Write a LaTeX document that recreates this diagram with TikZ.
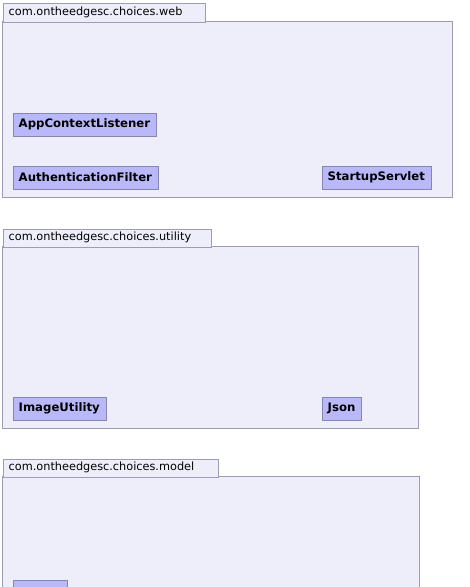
\documentclass[tikz,border=0pt]{standalone}
\usepackage{fontspec}
\setmainfont{DejaVu Sans}
\usepackage{tikz}
\usetikzlibrary{positioning}
\definecolor{pkgfill}  {HTML}{EEEEFB}
\definecolor{pkgline}  {HTML}{9C9CB4}
\definecolor{clsfill}  {HTML}{B9B9FA}
\definecolor{clsline}  {HTML}{8686B2}
\tikzset{
  pkgtab/.style={draw=pkgline, fill=pkgfill, anchor=north west, inner xsep=6pt,
                 inner ysep=0pt, align=left, text height=8.5pt, text depth=2.5pt,
                 font=\fontsize{11.3}{12}\selectfont},
  pkgbody/.style={draw=pkgline, fill=pkgfill},
  clsnode/.style={draw=clsline, fill=clsfill, anchor=north west, inner xsep=6pt,
                  inner ysep=0pt, minimum height=23pt,
                  font=\fontsize{11.7}{12}\selectfont\bfseries},
}

\begin{document}
\begin{tikzpicture}[x=1pt, y=-1pt]
  \useasboundingbox (0,0) rectangle (470,587);
  \clip (0,0) rectangle (470,587);
  % package web
  \draw[pkgbody] (2.5,21.5) rectangle (452.5,197.5);
  \node[pkgtab, text width=190pt, minimum height=19pt] (webtab) at (2.5,2.5)
    {com.ontheedgesc.choices.web};
  \node[clsnode] (appctx)  at (12.5,112.5) {AppContextListener};
  \node[clsnode] (authflt) at (12.5,165.5) {AuthenticationFilter};
  \node[clsnode] (startup) at (321.5,165.5) {StartupServlet};
  % package utility
  \draw[pkgbody] (2.5,246.5) rectangle (418.5,428.5);
  \node[pkgtab, text width=196pt, minimum height=18pt] (utiltab) at (2.5,228.5)
    {com.ontheedgesc.choices.utility};
  \node[clsnode] (imgutil) at (12.5,396.5) {ImageUtility};
  \node[clsnode] (json)    at (321.5,396.5) {Json};
  % package model (runs off the page)
  \draw[pkgbody] (2.5,476.5) rectangle (419.5,640);
  \node[pkgtab, text width=203pt, minimum height=18pt] (modeltab) at (2.5,458.5)
    {com.ontheedgesc.choices.model};
  \node[clsnode, minimum width=54pt] (modelcls) at (12.5,579.5) {};
\end{tikzpicture}
\end{document}
